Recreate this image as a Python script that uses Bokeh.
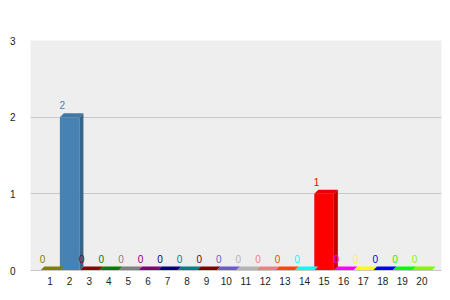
from bokeh.plotting import figure
from bokeh.models import ColumnDataSource, FixedTicker, Range1d
from bokeh.embed import file_html
from bokeh.resources import INLINE
from bokeh.core.properties import value

# Chart data
categories = list(range(1, 21))
values = [0, 2, 0, 0, 0, 0, 0, 0, 0, 0, 0, 0, 0, 0, 1, 0, 0, 0, 0, 0]
colors = [
    "#808000", "#4682B4", "#8B0000", "#008000", "#808080",
    "#800080", "#000080", "#008080", "#800000", "#6A5ACD",
    "#B4B4B4", "#F08080", "#FF4500", "#00FFFF", "#FF0000",
    "#FF00FF", "#FFFF00", "#0000FF", "#00FF00", "#7CFC00",
]
y_ticks = [0, 1, 2, 3]

# Layout
W, H = 450, 300
LEFT, RIGHT, TOP, BOTTOM = 30, 9, 40, 30
X_MAX = len(categories) + 1
Y_MAX = y_ticks[-1]
DEPTH_PX = 4
dx = DEPTH_PX * X_MAX / (W - LEFT - RIGHT)
dy = DEPTH_PX * Y_MAX / (H - TOP - BOTTOM)
HALF = 0.5


def shade(hex_color, k):
    h = hex_color.lstrip("#")
    r, g, b = (int(h[i:i + 2], 16) for i in (0, 2, 4))
    return "#%02x%02x%02x" % (int(r * k), int(g * k), int(b * k))


p = figure(
    width=W, height=H,
    x_range=Range1d(0, X_MAX), y_range=Range1d(0, Y_MAX),
    output_backend="svg", toolbar_location=None,
    min_border_left=LEFT, min_border_right=RIGHT,
    min_border_top=TOP, min_border_bottom=BOTTOM,
)
p.background_fill_color = "#eeeeee"
p.border_fill_color = "white"
p.outline_line_color = None

# Front faces
front = ColumnDataSource(dict(
    left=[c - HALF for c in categories],
    right=[c + HALF for c in categories],
    top=values,
    color=colors,
))
p.quad(left="left", right="right", bottom=0, top="top",
       fill_color="color", line_color=None, source=front)

# Top faces (parallelograms receding up-right)
top_xs, top_ys, top_cols = [], [], []
for c, v, col in zip(categories, values, colors):
    x0, x1 = c - HALF, c + HALF
    top_xs.append([x0, x0 + dx, x1 + dx, x1])
    top_ys.append([v, v + dy, v + dy, v])
    top_cols.append(shade(col, 0.92) if v > 0 else col)
p.patches(xs="xs", ys="ys", fill_color="color", line_color=None,
          source=ColumnDataSource(dict(xs=top_xs, ys=top_ys, color=top_cols)))

# Side faces for non-zero bars
side_xs, side_ys, side_cols = [], [], []
for c, v, col in zip(categories, values, colors):
    if v <= 0:
        continue
    x1 = c + HALF
    side_xs.append([x1, x1 + dx, x1 + dx, x1])
    side_ys.append([0, dy, v + dy, v])
    side_cols.append(shade(col, 0.78))
p.patches(xs="xs", ys="ys", fill_color="color", line_color=None,
          source=ColumnDataSource(dict(xs=side_xs, ys=side_ys, color=side_cols)))

# Value labels above each bar
labels = ColumnDataSource(dict(
    x=[c - HALF + 0.12 for c in categories],
    y=values,
    text=[str(v) for v in values],
    color=colors,
))
p.text(x="x", y="y", text="text", text_color="color", source=labels,
       text_align="center", text_baseline="middle", y_offset=-12,
       text_font=value("Liberation Sans"), text_font_size="10px")

# Axes
p.xaxis.ticker = FixedTicker(ticks=categories)
p.yaxis.ticker = FixedTicker(ticks=y_ticks)
for ax in (p.xaxis, p.yaxis):
    ax.major_tick_line_color = None
    ax.minor_tick_line_color = None
    ax.major_tick_out = 0
    ax.major_tick_in = 0
    ax.minor_tick_out = 0
    ax.major_label_text_font = "Liberation Sans"
    ax.major_label_text_font_size = "10px"
    ax.major_label_text_color = "#222222"
p.xaxis.axis_line_color = "#c8c8c8"
p.xaxis.major_label_standoff = 6
p.yaxis.axis_line_color = None
p.yaxis.major_label_standoff = 15

p.xgrid.grid_line_color = None
p.ygrid.grid_line_color = "#c8c8c8"
p.ygrid.ticker = FixedTicker(ticks=y_ticks)

open("out.html", "w").write(file_html(p, INLINE))
